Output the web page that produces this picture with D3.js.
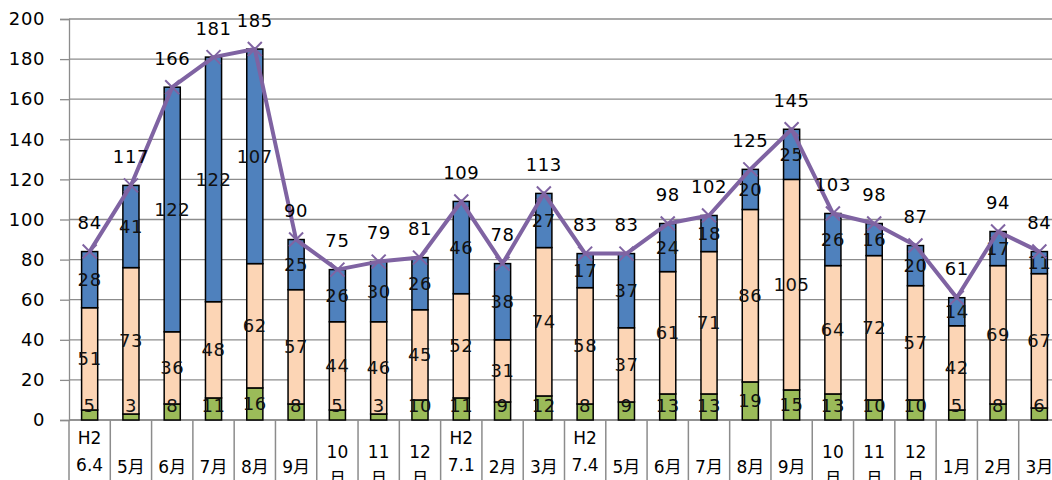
<!DOCTYPE html>
<html><head><meta charset="utf-8">
<script src="https://cdn.jsdelivr.net/npm/d3@7"></script>
<style>body{margin:0;background:#fff;overflow:hidden} svg{display:block}</style>
</head><body><svg id="c" width="1052" height="480"></svg>
<script>
const categories = ["H2\n6.4","5月","6月","7月","8月","9月","10\n月","11\n月","12\n月","H2\n7.1","2月","3月","H2\n7.4","5月","6月","7月","8月","9月","10\n月","11\n月","12\n月","1月","2月","3月"];
const green = [5,3,8,11,16,8,5,3,10,11,9,12,8,9,13,13,19,15,13,10,10,5,8,6];
const peach = [51,73,36,48,62,57,44,46,45,52,31,74,58,37,61,71,86,105,64,72,57,42,69,67];
const blue  = [28,41,122,122,107,25,26,30,26,46,38,27,17,37,24,18,20,25,26,16,20,14,17,11];
const totals = [84,117,166,181,185,90,75,79,81,109,78,113,83,83,98,102,125,145,103,98,87,61,94,84];
const yTicks = [0,20,40,60,80,100,120,140,160,180,200];

const svg = d3.select("#c");
const L = 69, R = 1060, T = 19, B = 420;
const x = d3.scaleBand().domain(d3.range(categories.length)).range([L, R]).padding(0);
const y = d3.scaleLinear().domain([0, 200]).range([B, T]);
const bw = x.bandwidth() * 0.39;
const cx = i => x(i) + x.bandwidth() / 2;
const FONT = "'DejaVu Sans','Noto Sans CJK JP',sans-serif";

// gridlines
svg.append("g").selectAll("line").data(yTicks).join("line")
  .attr("x1", L).attr("x2", R).attr("y1", d => y(d)).attr("y2", d => y(d))
  .attr("stroke", "#8c8c8c").attr("stroke-width", 1.3);

// y axis
const yAx = svg.append("g").attr("transform", `translate(${L},0)`)
  .call(d3.axisLeft(y).tickValues(yTicks).tickSize(9).tickPadding(15));
yAx.select(".domain").attr("stroke", "#8c8c8c").attr("stroke-width", 1.3);
yAx.selectAll(".tick line").attr("stroke", "#8c8c8c").attr("stroke-width", 1.3);
yAx.selectAll("text").attr("font-family", FONT).attr("font-size", 18).attr("letter-spacing", 0.6).attr("fill", "#000");

// x axis (category boundaries)
svg.append("line").attr("x1", L).attr("x2", R).attr("y1", B).attr("y2", B).attr("stroke", "#8c8c8c").attr("stroke-width", 1.3);
svg.append("g").selectAll("line").data(d3.range(categories.length + 1)).join("line")
  .attr("x1", i => L + i * x.step()).attr("x2", i => L + i * x.step())
  .attr("y1", B).attr("y2", 480).attr("stroke", "#8c8c8c").attr("stroke-width", 1.5);

const xl = svg.append("g").selectAll("text").data(categories).join("text")
  .attr("font-family", FONT).attr("font-size", 17).attr("fill", "#000")
  .attr("text-anchor", "middle");
xl.each(function(d, i) {
  const parts = d.split("\n");
  const t = d3.select(this);
  if (parts.length === 1) {
    t.append("tspan").attr("x", cx(i)).attr("y", 473).text(parts[0]);
  } else {
    const y0 = parts[0] === "H2" ? 444 : 458;
    t.append("tspan").attr("x", cx(i)).attr("y", y0).text(parts[0]);
    t.append("tspan").attr("x", cx(i)).attr("y", y0 + 27).text(parts[1]);
  }
});

// stacked bars
const series = [
  {vals: green, color: "#9bbb59"},
  {vals: peach, color: "#fcd5b5"},
  {vals: blue,  color: "#4f81bd"}
];
const stacks = categories.map((c, i) => {
  let acc = 0;
  return series.map(s => { const y0 = acc; acc += s.vals[i]; return {i, y0, y1: acc, v: s.vals[i], color: s.color}; });
});
const flat = stacks.flat();
svg.append("g").selectAll("rect").data(flat).join("rect")
  .attr("x", d => cx(d.i) - bw / 2).attr("width", bw)
  .attr("y", d => y(d.y1)).attr("height", d => y(d.y0) - y(d.y1))
  .attr("fill", d => d.color).attr("stroke", "#000").attr("stroke-width", 1.5);

// segment labels
svg.append("g").selectAll("text").data(flat).join("text")
  .attr("x", d => cx(d.i)).attr("y", d => Math.min(y((d.y0 + d.y1) / 2), y(7)))
  .attr("dy", "0.36em").attr("text-anchor", "middle")
  .attr("font-family", FONT).attr("font-size", 18).attr("letter-spacing", 0.6).attr("fill", "#111")
  .text(d => d.v);

// total line
const line = d3.line().x((d, i) => cx(i)).y(d => y(d));
svg.append("path").datum(totals).attr("d", line)
  .attr("fill", "none").attr("stroke", "#7f63a2").attr("stroke-width", 4).attr("stroke-linejoin", "round");
const m = 7;
svg.append("g").selectAll("path").data(totals).join("path")
  .attr("d", (d, i) => `M${cx(i)-m},${y(d)-m}L${cx(i)+m},${y(d)+m}M${cx(i)-m},${y(d)+m}L${cx(i)+m},${y(d)-m}`)
  .attr("stroke", "#8064a2").attr("stroke-width", 2).attr("fill", "none");

svg.append("g").selectAll("text").data(totals).join("text")
  .attr("x", (d, i) => cx(i)).attr("y", d => y(d) - 29)
  .attr("dy", "0.36em").attr("text-anchor", "middle")
  .attr("font-family", FONT).attr("font-size", 18).attr("letter-spacing", 0.6).attr("fill", "#000")
  .text(d => d);
</script></body></html>
